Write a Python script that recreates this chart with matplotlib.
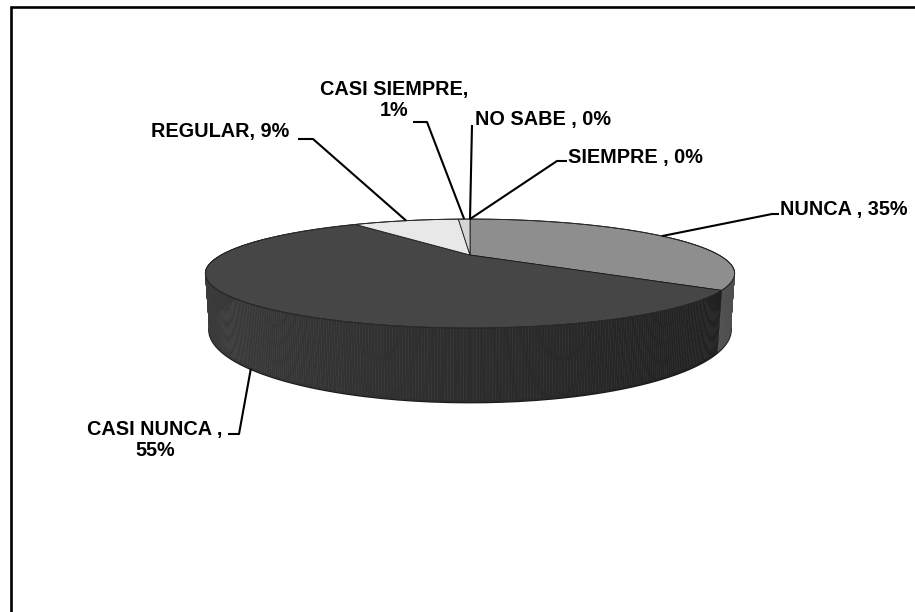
import numpy as np
import matplotlib
matplotlib.use("Agg")
import matplotlib.pyplot as plt
from matplotlib.collections import PolyCollection

# ---------------- data ----------------
categories = ["NUNCA", "CASI NUNCA", "REGULAR", "CASI SIEMPRE", "NO SABE", "SIEMPRE"]
values = [35, 55, 9, 1, 0, 0]
labels = ["NUNCA , 35%", "CASI NUNCA ,\n55%", "REGULAR, 9%",
          "CASI SIEMPRE,\n1%", "NO SABE , 0%", "SIEMPRE , 0%"]
top_colors = ["#8e8e8e", "#464646", "#e8e8e8", "#d4d4d4", "#bcbcbc", "#a8a8a8"]

# label layout (pixel positions): text anchor, alignment, leader elbow points
label_pos = [(780, 210), (155, 440), (151, 132), (394, 100), (475, 120), (568, 158)]
label_ha = ["left", "center", "left", "center", "left", "left"]
leader_elbow = [[(779, 214), (772, 214)],
                [(228, 434), (239, 434)],
                [(298, 139), (313, 139)],
                [(413, 122), (427, 122)],
                [(472, 125)],
                [(567, 161), (557, 161)]]

W, H = 915, 612
fig = plt.figure(figsize=(W / 100, H / 100), dpi=100)
ax = fig.add_axes([0, 0, 1, 1])
ax.set_xlim(0, W)
ax.set_ylim(H, 0)
ax.axis("off")

# frame
ax.plot([11, 11, W + 5], [H + 5, 7, 7], color="black", lw=1.9,
        solid_joinstyle="miter", clip_on=False)

# ---------------- 3D perspective pie ----------------
CX, CY = 470.0, 255.0
F, L = 718.0, 2.885
ELEV = np.radians(11.16)
DEPTH = 0.2085


def proj(theta, z):
    u = np.sin(theta)
    v = -np.cos(theta)
    d = L - v * np.cos(ELEV) - z * np.sin(ELEV)
    sx = CX + F * u / d
    sy = CY + F * (v * np.sin(ELEV) - z * np.cos(ELEV)) / d
    return sx, sy


def to_rgb(h):
    h = h.lstrip("#")
    return np.array([int(h[i:i + 2], 16) for i in (0, 2, 4)]) / 255.0


vals = np.array(values, dtype=float)
frac = vals / vals.sum()
bounds = np.concatenate([[0], np.cumsum(frac)]) * 2 * np.pi

# bottom rim outline (behind the side walls, peeks out as a dark edge)
tb = np.linspace(0, 2 * np.pi, 400)
bx, by = proj(tb, -DEPTH)
ax.plot(bx, by, color="#1a1a1a", lw=2.0, zorder=1)

# side strips
quads, qcols, keys = [], [], []
for i in range(len(values)):
    t0, t1 = bounds[i], bounds[i + 1]
    if t1 - t0 <= 0:
        continue
    n = max(2, int(np.degrees(t1 - t0) / 0.5))
    ts = np.linspace(t0, t1, n + 1)
    base = to_rgb(top_colors[i])
    for a, b in zip(ts[:-1], ts[1:]):
        vm = -np.cos((a + b) / 2)
        if vm < -0.4:
            continue
        xa, ya = proj(a, 0)
        xb, yb = proj(b, 0)
        xc, yc = proj(b, -DEPTH)
        xd, yd = proj(a, -DEPTH)
        quads.append([(xa, ya), (xb, yb), (xc, yc), (xd, yd)])
        um = np.sin((a + b) / 2)
        f = 0.87 - 0.23 * (um + 1)
        if i == 0:
            f = f + 0.12
        qcols.append(np.clip(base * f, 0, 1))
        keys.append(vm)
order = np.argsort(keys)
pc = PolyCollection([quads[k] for k in order], facecolors=[qcols[k] for k in order],
                    edgecolors=[qcols[k] for k in order], linewidths=0.4, zorder=2)
ax.add_collection(pc)

# top faces
for i in range(len(values)):
    t0, t1 = bounds[i], bounds[i + 1]
    if t1 - t0 <= 0:
        continue
    ts = np.linspace(t0, t1, max(3, int(np.degrees(t1 - t0)) + 2))
    xs, ys = proj(ts, 0)
    px = np.concatenate([[CX], xs])
    py = np.concatenate([[CY], ys])
    ax.fill(px, py, facecolor=top_colors[i], edgecolor="#1a1a1a", lw=0.6,
            joinstyle="round", zorder=3)

# top rim outline
tt = np.linspace(0, 2 * np.pi, 400)
rx, ry = proj(tt, 0)
ax.plot(rx, ry, color="#2a2a2a", lw=0.7, zorder=4)

# ---------------- labels & leaders ----------------
for i in range(len(values)):
    mid = (bounds[i] + bounds[i + 1]) / 2
    if -np.cos(mid) > 0.3:
        ex, ey = proj(mid - 0.05, -DEPTH)
    else:
        ex, ey = proj(mid, 0)
    pts = leader_elbow[i] + [(ex, ey)]
    ax.plot([p[0] for p in pts], [p[1] for p in pts], color="black", lw=1.5,
            solid_capstyle="butt", zorder=5)
    x, y = label_pos[i]
    ax.text(x, y, labels[i], ha=label_ha[i], va="center", multialignment="center",
            fontsize=14.3, fontweight="bold", family="Liberation Sans",
            linespacing=1.12, color="black", zorder=6)

fig.savefig("out.png", dpi=100)
